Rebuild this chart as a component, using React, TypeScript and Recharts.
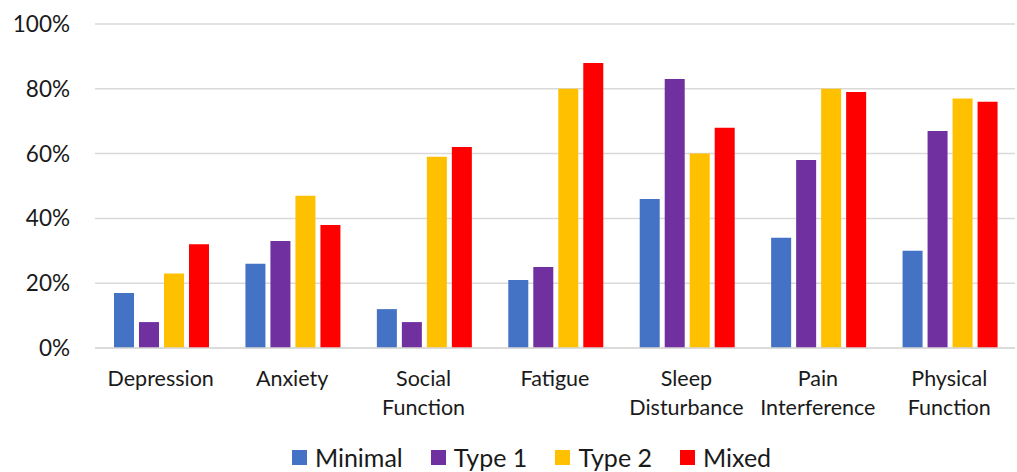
import React from 'react';
import { BarChart, Bar, XAxis, YAxis, CartesianGrid, Legend } from 'recharts';

const categories = ['Depression', 'Anxiety', 'Social Function', 'Fatigue', 'Sleep Disturbance', 'Pain Interference', 'Physical Function'];
const minimal = [17, 26, 12, 21, 46, 34, 30];
const type1 = [8, 33, 8, 25, 83, 58, 67];
const type2 = [23, 47, 59, 80, 60, 80, 77];
const mixed = [32, 38, 62, 88, 68, 79, 76];
const yTicks = [0, 20, 40, 60, 80, 100];

const series = [
  { key: 'minimal', name: 'Minimal', color: '#4472C4' },
  { key: 'type1', name: 'Type 1', color: '#7030A0' },
  { key: 'type2', name: 'Type 2', color: '#FFC000' },
  { key: 'mixed', name: 'Mixed', color: '#FF0000' },
];

const data = categories.map((name, i) => ({
  name,
  minimal: minimal[i],
  type1: type1[i],
  type2: type2[i],
  mixed: mixed[i],
}));

const FONT = 'Lato, "Open Sans", sans-serif';

const CategoryTick = ({ x, y, payload }: any) => {
  const lines = String(payload.value).split(' ');
  return (
    <text x={x} y={y} textAnchor="middle" fill="#1a1a1a" fontSize={21.5} fontFamily={FONT}>
      {lines.map((line, i) => (
        <tspan key={i} x={x} dy={i === 0 ? 30 : 29}>{line}</tspan>
      ))}
    </text>
  );
};

const LegendContent = () => (
  <div style={{ display: 'flex', justifyContent: 'center', alignItems: 'center', height: 30, marginTop: 7, paddingLeft: 48, fontFamily: FONT, fontSize: 25, color: '#1a1a1a' }}>
    {series.map((s) => (
      <div key={s.key} style={{ display: 'flex', alignItems: 'center', margin: '0 14px' }}>
        <span style={{ width: 15, height: 15, background: s.color, display: 'inline-block', marginRight: 8 }} />
        <span>{s.name}</span>
      </div>
    ))}
  </div>
);

export default function App() {
  return (
    <div style={{ position: 'absolute', left: 0, top: 0, background: '#fff' }}>
      <BarChart
        width={1017}
        height={472}
        data={data}
        margin={{ top: 24, right: 2, left: 0, bottom: 0 }}
        barCategoryGap={19}
        barGap={5}
      >
        <CartesianGrid vertical={false} stroke="#d9d9d9" strokeWidth={1.5} />
        <XAxis
          dataKey="name"
          tick={<CategoryTick />}
          tickLine={false}
          axisLine={{ stroke: '#d9d9d9', strokeWidth: 1.5 }}
          height={87}
          interval={0}
        />
        <YAxis
          domain={[0, 100]}
          ticks={yTicks}
          tickFormatter={(v) => `${v}%`}
          width={95}
          tickLine={false}
          axisLine={false}
          tickSize={0}
          tickMargin={25}
          tick={{ fontSize: 22.5, fill: '#1a1a1a', fontFamily: FONT }}
        />
        <Legend verticalAlign="bottom" content={<LegendContent />} />
        {series.map((s) => (
          <Bar key={s.key} dataKey={s.key} name={s.name} fill={s.color} isAnimationActive={false} />
        ))}
      </BarChart>
    </div>
  );
}
